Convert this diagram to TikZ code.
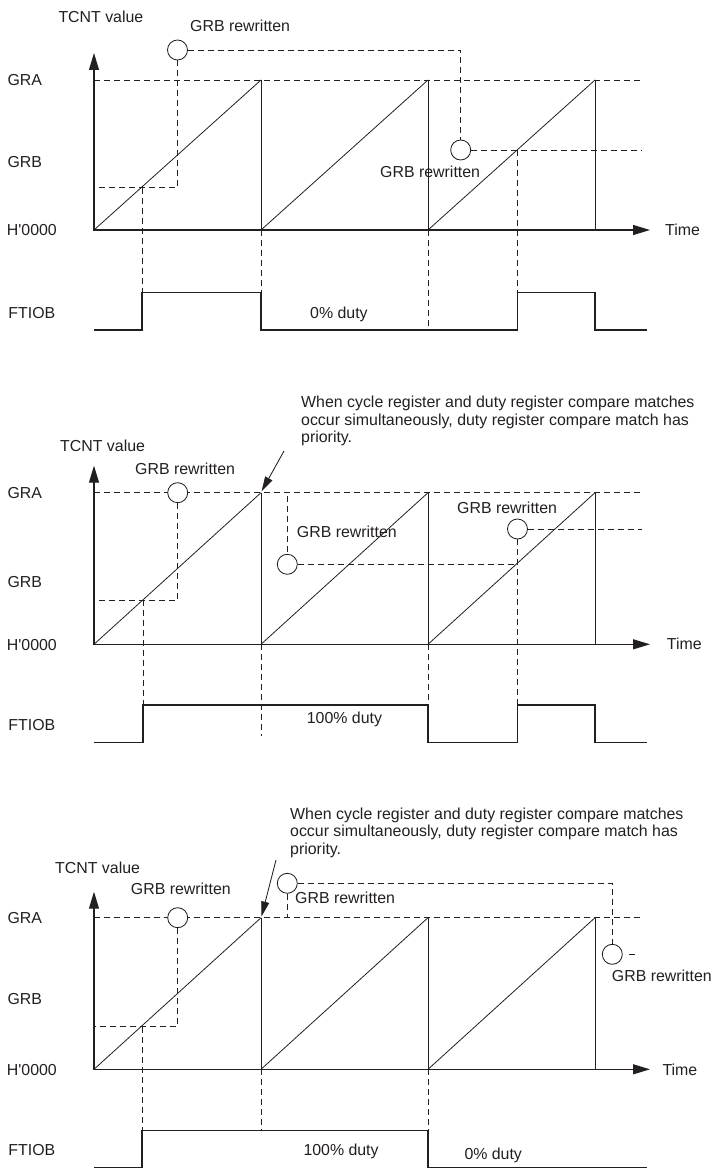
\documentclass[tikz,border=0pt]{standalone}
\usepackage{fontspec}
\newfontfamily\lblfont{Liberation Sans}
\usetikzlibrary{arrows.meta}
\definecolor{ink}{RGB}{35,31,32}
\begin{document}
\begin{tikzpicture}[x=1pt,y=-1pt,
  lbl/.style={inner sep=0pt, anchor=base west, font=\lblfont\fontsize{15.9}{17.7}\selectfont, text=ink},
  axisline/.style={draw=ink, line width=1.2pt},
  axisarrow/.style={axisline, -{Triangle[length=17pt,width=10pt]}},
  ramp/.style={draw=ink, line width=0.8pt},
  drop/.style={draw=ink, line width=0.95pt},
  guide/.style={draw=ink, line width=0.8pt, dash pattern=on 6pt off 4pt},
  sig/.style={draw=ink, line width=1.05pt},
  rwcircle/.style={circle, draw=ink, fill=white, line width=0.85pt, minimum size=20pt, inner sep=0pt},
  callout/.style={draw=ink, line width=0.85pt, -{Triangle[length=15pt,width=8pt]}}
]
\useasboundingbox (0,0) rectangle (714,1169);

% ================= Panel 1 =================
\node[lbl] (p1tcnt) at (58.3,22.7) {TCNT value};
\node[lbl] (p1gra) at (7.3,85.7) {GRA};
\node[lbl] (p1grb) at (7.3,167.7) {GRB};
\node[lbl] (p1zero) at (6.7,235.7) {H'0000};
\node[lbl] (p1ftiob) at (8.3,318.7) {FTIOB};
\node[lbl] (p1time) at (665,235.7) {Time};
\node[lbl] (p1rwa) at (190,31.7) {GRB rewritten};
\node[lbl] (p1duty) at (310,318.7) {0\% duty};

\draw[guide] (94,80) -- (641.7,80);
\node[rwcircle] (p1c1) at (177.5,50) {};
\node[rwcircle] (p1c2) at (460.7,150) {};
\draw[guide] (p1c1.south) -- (177.5,187.7) -- (94,187.7);
\draw[guide] (p1c1.east) -- (460.7,50) -- (p1c2.north);
\draw[guide] (p1c2.east) -- (641.7,150);
\draw[guide] (142,187.7) -- (142,292.7);
\draw[guide] (261,230) -- (261,292.7);
\draw[guide] (428,230) -- (428,330);
\draw[guide] (517.2,150) -- (517.2,292.7);
\node[lbl] (p1rwb) at (380,177.7) {GRB rewritten};

\draw[ramp] (94,230) -- (261,80);
\draw[ramp] (261,230) -- (428,80);
\draw[ramp] (428,230) -- (595,80);
\draw[drop] (261,80) -- (261,230);
\draw[drop] (428,80) -- (428,230);
\draw[drop] (595,80) -- (595,230);
\draw[axisarrow] (94,230.6) -- (94,53);
\draw[axisarrow] (93.4,230) -- (650,230);
\draw[sig] (94,330) -- (142,330) -- (142,292.7) -- (261,292.7) -- (261,330)
  -- (517.2,330) -- (517.2,292.7) -- (595,292.7) -- (595,330) -- (647,330);

% ================= Panel 2 =================
\node[lbl] (p2n1) at (301,407.3) {When cycle register and duty register compare matches};
\node[lbl] (p2n2) at (301,425) {occur simultaneously, duty register compare match has};
\node[lbl] (p2n3) at (301,442.5) {priority.};
\node[lbl] (p2tcnt) at (60,451.7) {TCNT value};
\node[lbl] (p2rwa) at (135,474) {GRB rewritten};
\node[lbl] (p2gra) at (7.3,498.4) {GRA};
\node[lbl] (p2grb) at (7.3,587.4) {GRB};
\node[lbl] (p2zero) at (6.7,650) {H'0000};
\node[lbl] (p2ftiob) at (8.3,730.7) {FTIOB};
\node[lbl] (p2time) at (666.7,649.5) {Time};
\node[lbl] (p2rwb) at (296.7,537.4) {GRB rewritten};
\node[lbl] (p2rwc) at (457,513.7) {GRB rewritten};
\node[lbl] (p2duty) at (306.7,723.7) {100\% duty};

\draw[guide] (94,492.7) -- (641.7,492.7);
\node[rwcircle] (p2c1) at (177.7,492.7) {};
\node[rwcircle] (p2c2) at (287.3,564.3) {};
\node[rwcircle] (p2c3) at (517.5,529) {};
\draw[guide] (p2c1.south) -- (177.7,600) -- (94,600);
\draw[guide] (287.3,496) -- (p2c2.north);
\draw[guide] (p2c2.east) -- (516.5,564.3);
\draw[guide] (p2c3.east) -- (641.7,529);
\draw[guide] (p2c3.south) -- (517.5,705);
\draw[guide] (143,600) -- (143,705);
\draw[guide] (261,644.3) -- (261,736);
\draw[guide] (428,644.3) -- (428,705);

\draw[ramp] (94,644.3) -- (261,492.7);
\draw[ramp] (261,644.3) -- (428,492.7);
\draw[ramp] (428,644.3) -- (595,492.7);
\draw[drop] (261,492.7) -- (261,644.3);
\draw[drop] (428,492.7) -- (428,644.3);
\draw[drop] (595,492.7) -- (595,644.3);
\draw[axisarrow] (94,644.9) -- (94,465.7);
\draw[axisarrow] (93.4,644.3) -- (650,644.3);
\draw[sig] (94,742.5) -- (143,742.5) -- (143,705) -- (428,705) -- (428,742.5)
  -- (517.5,742.5) -- (517.5,705) -- (595,705) -- (595,742.5) -- (647,742.5);
\coordinate (p2hit) at (261.5,491.5);
\draw[callout] (p2n3.south west) ++(-17,5) -- (p2hit);

% ================= Panel 3 =================
\node[lbl] (p3n1) at (290,819) {When cycle register and duty register compare matches};
\node[lbl] (p3n2) at (290,836.7) {occur simultaneously, duty register compare match has};
\node[lbl] (p3n3) at (290,854.4) {priority.};
\node[lbl] (p3tcnt) at (55,873.4) {TCNT value};
\node[lbl] (p3rwa) at (130.7,894) {GRB rewritten};
\node[lbl] (p3gra) at (7.3,923.4) {GRA};
\node[lbl] (p3grb) at (7.3,1004) {GRB};
\node[lbl] (p3zero) at (6.7,1075) {H'0000};
\node[lbl] (p3ftiob) at (8.3,1155.7) {FTIOB};
\node[lbl] (p3time) at (662.3,1075) {Time};
\node[lbl] (p3rwc) at (611.7,981.4) {GRB rewritten};
\node[lbl] (p3duty) at (303.3,1155) {100\% duty};
\node[lbl] (p3zduty) at (464.3,1159) {0\% duty};

\draw[guide] (94,917.7) -- (641.7,917.7);
\node[rwcircle] (p3c1) at (177.7,917.7) {};
\node[rwcircle] (p3c2) at (287.3,883.3) {};
\node[rwcircle] (p3c3) at (612.3,954.3) {};
\draw[guide] (p3c1.south) -- (177.7,1026.7) -- (94,1026.7);
\draw[guide] (p3c2.south) -- (287.3,917.7);
\draw[guide] (p3c2.east) -- (612.3,883.3) -- (p3c3.north);
\draw[guide] (629,954.3) -- (635,954.3);
\draw[guide] (142,1026.7) -- (142,1130.7);
\draw[guide] (261,1069.3) -- (261,1130.7);
\draw[guide] (428,1069.3) -- (428,1130.7);
\node[lbl] (p3rwb) at (295,903) {GRB rewritten};

\draw[ramp] (94,1069.3) -- (261,917.7);
\draw[ramp] (261,1069.3) -- (428,917.7);
\draw[ramp] (428,1069.3) -- (595,917.7);
\draw[drop] (261,917.7) -- (261,1069.3);
\draw[drop] (428,917.7) -- (428,1069.3);
\draw[drop] (595,917.7) -- (595,1069.3);
\draw[axisarrow] (94,1069.9) -- (94,891.7);
\draw[axisarrow] (93.4,1069.3) -- (650,1069.3);
\draw[sig] (94,1167.5) -- (142,1167.5) -- (142,1130.7) -- (428,1130.7) -- (428,1167.5) -- (647,1167.5);
\coordinate (p3hit) at (261.5,916.5);
\draw[callout] (276,860) -- (p3hit);
\end{tikzpicture}
\end{document}
